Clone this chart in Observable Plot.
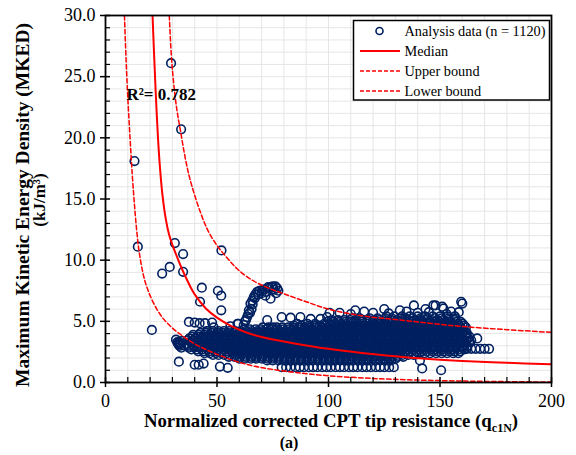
<!DOCTYPE html>
<html><head><meta charset="utf-8">
<script src="https://cdn.jsdelivr.net/npm/d3@7"></script>
<script src="https://cdn.jsdelivr.net/npm/@observablehq/plot@0.6"></script>
<style>
body{margin:0;background:#fff}
#chart{width:576px;height:455px}
</style>
</head><body><div id="chart"></div>
<script>
// ---- fitted curves ----
const medianQc = [21.1, 21.7, 22.5, 23.5, 24.5, 25.5, 27, 28.5, 30, 32, 34, 36, 38, 40, 45, 50, 56, 63, 70, 80, 90, 100, 115, 130, 145, 160, 180, 200];
const medianV  = [30, 27.2, 23.8, 20.1, 17.4, 15.4, 13.4, 12.1, 11.25, 10.3, 9.4, 8.6, 7.85, 7.2, 6.05, 5.3, 4.65, 4.1, 3.72, 3.35, 3.03, 2.75, 2.42, 2.15, 1.92, 1.76, 1.61, 1.5];
const upperQc  = [28.6, 29.5, 30.5, 32, 33.6, 35.5, 37.5, 40, 43, 46, 50, 54, 59, 65, 72, 80, 90, 100, 115, 130, 145, 160, 180, 200];
const upperV   = [30, 26.8, 24.6, 22.3, 20.6, 18.6, 16.9, 15.3, 13.7, 12.4, 11.2, 10.3, 9.3, 8.45, 7.8, 7.25, 6.6, 6.0, 5.45, 5.15, 4.85, 4.58, 4.32, 4.1];
const lowerQc  = [8.5, 9.2, 10, 11, 12, 13, 14, 15, 16.5, 18, 20, 23, 26, 30, 35, 40, 45, 50, 55, 60, 67, 75, 85, 100, 120, 140, 160, 180, 200];
const lowerV   = [30, 26.5, 23.3, 20.0, 17.0, 14.5, 12.4, 10.8, 9.2, 8.1, 7.1, 6.0, 5.2, 4.45, 3.75, 3.15, 2.7, 2.3, 1.95, 1.65, 1.32, 1.07, 0.82, 0.55, 0.33, 0.2, 0.12, 0.07, 0.04];

// ---- analysis data: isolated points ----
const isoQc = [13, 14.5, 20.8, 25.4, 28.8, 29.4, 31.1, 33.9, 34.8, 34.8, 32.9, 40, 41.8, 43.2, 42.4, 44, 50.4, 51.9, 51.9, 52, 51.3, 54.8,
  37.4, 40, 42.2, 44.6, 47.8, 59.2, 31.6, 32.2, 32.8, 33.2, 33.6, 34.5, 35.5, 34, 32.5, 33,
  62, 62.5, 63, 63.5, 64, 64.3, 64.8, 65, 65.5, 65.8, 66, 66.5, 67, 67.2, 68, 68.5, 69, 70, 70.3, 71, 71.7, 72, 72.5, 73, 73.5, 74, 74.7, 75, 75.5, 76.2, 76.5, 77, 77.5,
  72.5, 79, 83, 87.4, 92, 96.4, 99.4, 59.5, 56, 48.5,
  100.5, 105, 110, 112, 116, 120, 125, 127, 132, 135, 138.3, 140, 143.5, 145, 147, 148, 151, 151.6, 153, 155, 158.4, 159.5, 160,
  162, 164, 166, 168, 170, 172, 166.7, 163, 161.5,
  141, 142, 150.5];
const isoV = [18.1, 11.1, 4.3, 8.9, 9.45, 26.1, 11.4, 20.7, 10.5, 9.05, 1.7, 1.45, 1.45, 7.75, 6.6, 1.55, 7.5, 7.1, 5.9, 10.8, 1.3, 1.2,
  4.95, 4.9, 4.85, 4.85, 4.9, 4.8, 3.5, 3.3, 3.1, 3.0, 3.2, 3.4, 3.0, 2.85, 3.2, 3.3,
  4.7, 5.0, 5.1, 5.35, 5.6, 5.9, 5.7, 6.45, 6.0, 6.7, 6.4, 7.0, 6.9, 7.2, 7.4, 7.2, 7.5, 7.3, 7.55, 7.6, 7.1, 7.4, 7.7, 7.8, 7.75, 6.85, 7.8, 7.85, 7.6, 7.85, 7.3, 7.7, 7.5,
  5.1, 5.35, 5.3, 5.35, 5.2, 5.2, 5.35, 4.8, 4.6, 4.5,
  5.7, 5.7, 5.6, 5.9, 5.8, 5.7, 6.0, 5.65, 5.9, 5.8, 6.3, 5.7, 6.0, 5.75, 6.3, 6.3, 6.2, 6.05, 5.6, 5.8, 5.75, 6.6, 6.45,
  2.75, 2.75, 2.75, 2.75, 2.75, 2.75, 3.6, 3.3, 3.9,
  1.8, 1.15, 1.0];

// bottom row of separate circles
const lowRowQc = [79, 81, 83, 85.2, 87.1, 89, 91.2, 93.1, 95, 97.2, 99.1, 101, 103.2, 105.1, 107, 109.2, 111.1, 113, 115.2, 117.1, 119, 121.2, 123.1, 125, 127.2, 129.3];
const lowRowV = 1.25;

// dense cloud, read row by row (MKED level, then qc centres along it)
const cloudV = [1.8, 1.95, 2.1, 2.25, 2.4, 2.55, 2.7, 2.85, 3.0, 3.15, 3.3, 3.45, 3.6, 3.75, 3.9, 4.05, 4.2, 4.35, 4.5, 4.65, 4.8, 4.95, 5.1, 5.25, 5.4];
const cloudQc = [
  [72.5, 75, 77.6, 80.2, 82.7, 85.1, 87.8, 90.3, 92.6, 95.2, 97.9, 100.4, 102.8, 105.5, 108, 110.4, 113.1, 115.6, 118, 120.7, 123.2, 125.6, 128.1],
  [60, 62.6, 65.2, 67.6, 70.1, 72.7, 75.1, 77.6, 80.2, 82.6, 85.1, 87.7, 90.1, 92.6, 95.2, 97.6, 100.1, 102.7, 105.1, 107.6, 110.2, 112.6, 115.1, 117.7, 120.1, 122.6, 125.2, 127.6, 130.1],
  [55.3, 57.9, 60.2, 62.8, 65.4, 67.7, 70.3, 72.8, 75.3, 77.9, 80.4, 82.8, 85.5, 88, 90.4, 93, 95.6, 98, 100.5, 103.1, 105.6, 108, 110.7, 113.2, 115.6, 118.3, 120.8, 123.2, 125.9, 128.4, 130.8, 133.5],
  [48.2, 50.7, 53.3, 55.7, 58.2, 60.8, 63.2, 65.7, 68.3, 70.7, 73.2, 75.8, 78.2, 80.7, 83.3, 85.7, 88.2, 90.8, 93.2, 95.7, 98.3, 100.7, 103.2, 105.8, 108.2, 110.7, 113.3, 115.7, 118.2, 120.8, 123.2, 125.7, 128.3, 130.7, 133.2, 135.8, 138.2],
  [44.4, 46.8, 49.5, 52, 54.4, 57.1, 59.6, 62, 64.7, 67.2, 69.6, 72.3, 74.8, 77.2, 79.9, 82.4, 84.8, 87.5, 90, 92.4, 95.1, 97.6, 100, 102.7, 105.2, 107.6, 110.3, 112.8, 115.2, 117.9, 120.4, 122.8, 125.5, 128, 130.4, 133.1, 135.6, 138, 140.7, 143.2, 145.6, 148.3, 150.8, 153.2, 155.9, 158.2],
  [41.6, 44, 46.5, 49.1, 51.5, 54, 56.6, 59, 61.5, 64.1, 66.5, 69, 71.6, 74, 76.5, 79.1, 81.5, 84, 86.6, 89, 91.5, 94.1, 96.5, 99, 101.6, 104, 106.5, 109.1, 111.5, 114, 116.6, 119, 121.5, 124.1, 126.5, 129, 131.6, 134, 136.5, 139.1, 141.5, 144, 146.6, 149, 151.5, 154.1, 156.5, 159],
  [38.5, 41, 43.3, 45.9, 48.4, 50.8, 53.4, 55.9, 58.3, 60.9, 63.4, 65.8, 68.4, 70.9, 73.3, 75.9, 78.4, 80.8, 83.4, 85.9, 88.3, 90.9, 93.4, 95.8, 98.4, 100.9, 103.3, 105.9, 108.4, 110.8, 113.4, 115.9, 118.3, 120.9, 123.4, 125.8, 128.4, 130.9, 133.3, 135.9, 138.4, 140.8, 143.4, 145.9, 148.3, 150.9, 153.4, 155.8, 158.4, 160.9],
  [37.3, 39.8, 42.2, 44.7, 47.3, 49.7, 52.2, 54.8, 57.2, 59.7, 62.3, 64.7, 67.2, 69.8, 72.2, 74.7, 77.3, 79.7, 82.2, 84.8, 87.2, 89.7, 92.3, 94.7, 97.2, 99.8, 102.2, 104.7, 107.3, 109.7, 112.2, 114.8, 117.2, 119.7, 122.3, 124.7, 127.2, 129.8, 132.2, 134.7, 137.3, 139.7, 142.2, 144.8, 147.2, 149.7, 152.3, 154.7, 157.2, 159.8, 162],
  [37.2, 39.7, 42.1, 44.6, 47.2, 49.6, 52.1, 54.7, 57.1, 59.6, 62.2, 64.6, 67.1, 69.7, 72.1, 74.6, 77.2, 79.6, 82.1, 84.7, 87.1, 89.6, 92.2, 94.6, 97.1, 99.7, 102.1, 104.6, 107.2, 109.6, 112.1, 114.7, 117.1, 119.6, 122.2, 124.6, 127.1, 129.7, 132.1, 134.6, 137.2, 139.6, 142.1, 144.7, 147.1, 149.6, 152.2, 154.6, 157.1, 159.7, 162.3],
  [36.5, 38.9, 41.4, 44, 46.4, 48.9, 51.5, 53.9, 56.4, 59, 61.4, 63.9, 66.5, 68.9, 71.4, 74, 76.4, 78.9, 81.5, 83.9, 86.4, 89, 91.4, 93.9, 96.5, 98.9, 101.4, 104, 106.4, 108.9, 111.5, 113.9, 116.4, 119, 121.4, 123.9, 126.5, 128.9, 131.4, 134, 136.4, 138.9, 141.5, 143.9, 146.4, 149, 151.4, 153.9, 156.5, 158.9, 161.4],
  [38.4, 40.9, 43.4, 45.8, 48.4, 50.9, 53.3, 55.8, 58.4, 60.9, 63.3, 65.8, 68.4, 70.9, 73.3, 75.8, 78.4, 80.9, 83.3, 85.8, 88.4, 90.9, 93.3, 95.8, 98.4, 100.9, 103.3, 105.8, 108.4, 110.9, 113.3, 115.8, 118.4, 120.9, 123.3, 125.8, 128.4, 130.9, 133.3, 135.8, 138.4, 140.9, 143.3, 145.8, 148.4, 150.9, 153.3, 155.8, 158.4, 160.9, 163.4],
  [36.8, 39.3, 41.7, 44.2, 46.8, 49.2, 51.7, 54.3, 56.7, 59.2, 61.8, 64.2, 66.7, 69.3, 71.7, 74.2, 76.8, 79.2, 81.7, 84.3, 86.7, 89.2, 91.8, 94.2, 96.7, 99.3, 101.7, 104.2, 106.8, 109.2, 111.7, 114.3, 116.7, 119.2, 121.8, 124.2, 126.7, 129.3, 131.7, 134.2, 136.8, 139.2, 141.7, 144.3, 146.7, 149.2, 151.8, 154.2, 156.7, 159.3, 161.7, 164],
  [37.6, 40.1, 42.6, 45.1, 47.5, 50.1, 52.6, 55, 57.6, 60.1, 62.5, 65.1, 67.6, 70, 72.6, 75.1, 77.5, 80.1, 82.6, 85, 87.6, 90.1, 92.5, 95.1, 97.6, 100, 102.6, 105.1, 107.5, 110.1, 112.6, 115, 117.6, 120.1, 122.5, 125.1, 127.6, 130, 132.6, 135.1, 137.5, 140.1, 142.6, 145, 147.6, 150.1, 152.5, 155.1, 157.6, 160, 162.6],
  [38.9, 41.3, 43.8, 46.4, 48.8, 51.3, 53.9, 56.3, 58.8, 61.4, 63.8, 66.3, 68.9, 71.3, 73.8, 76.4, 78.8, 81.3, 83.9, 86.3, 88.8, 91.4, 93.8, 96.3, 98.9, 101.3, 103.8, 106.4, 108.8, 111.3, 113.9, 116.3, 118.8, 121.4, 123.8, 126.3, 128.9, 131.3, 133.8, 136.4, 138.8, 141.3, 143.9, 146.3, 148.8, 151.4, 153.8, 156.3, 158.9, 161.3, 163.2],
  [39.3, 41.8, 44.3, 46.7, 49.3, 51.8, 54.2, 56.8, 59.3, 61.7, 64.3, 66.8, 69.2, 71.8, 74.3, 76.7, 79.3, 81.8, 84.2, 86.8, 89.3, 91.7, 94.3, 96.8, 99.2, 101.8, 104.3, 106.7, 109.3, 111.8, 114.2, 116.8, 119.3, 121.7, 124.3, 126.8, 129.2, 131.8, 134.3, 136.7, 139.3, 141.8, 144.2, 146.8, 149.3, 151.7, 154.3, 156.8, 159.2, 161.8],
  [42.6, 45, 47.5, 50.1, 52.5, 55, 57.6, 60, 62.5, 65.1, 67.5, 70, 72.6, 75, 77.5, 80.1, 82.5, 85, 87.6, 90, 92.5, 95.1, 97.5, 100, 102.6, 105, 107.5, 110.1, 112.5, 115, 117.6, 120, 122.5, 125.1, 127.5, 130, 132.6, 135, 137.5, 140.1, 142.5, 145, 147.6, 150, 152.5, 155.1, 157.5, 160, 162],
  [45.5, 48, 50.6, 53.1, 55.5, 58.1, 60.6, 63, 65.6, 68.1, 70.5, 73.1, 75.6, 78, 80.6, 83.1, 85.5, 88.1, 90.6, 93, 95.6, 98.1, 100.5, 103.1, 105.6, 108, 110.6, 113.1, 115.5, 118.1, 120.6, 123, 125.6, 128.1, 130.5, 133.1, 135.6, 138, 140.6, 143.1, 145.5, 148.1, 150.6, 153, 155.6, 158.1, 160.5],
  [62.2, 64.7, 67.3, 69.7, 72.2, 74.8, 77.2, 79.7, 82.3, 84.7, 87.2, 89.8, 92.2, 94.7, 97.3, 99.7, 102.2, 104.8, 107.2, 109.7, 112.3, 114.7, 117.2, 119.8, 122.2, 124.7, 127.3, 129.7, 132.2, 134.8, 137.2, 139.7, 142.3, 144.7, 147.2, 149.8, 152.2, 154.7, 157.3, 159.7],
  [70.5, 73, 75, 76.8, 79.3, 81.9, 84.3, 86.8, 89.4, 91.8, 94.3, 96.9, 99.3, 101.8, 104.4, 106.8, 109.3, 111.9, 114.3, 116.8, 119.4, 121.8, 124.3, 126.9, 129.3, 131.8, 134.4, 136.8, 139.3, 141.9, 144.3, 146.8, 149.4, 151.8, 154.3, 156.9, 159.3, 161.6],
  [84.5, 88, 91.1, 93.6, 96.1, 98.7, 101.1, 103.6, 106.2, 108.6, 111.1, 113.7, 116.1, 118.6, 121.2, 123.6, 126.1, 128.7, 131.1, 133.6, 136.2, 138.6, 141.1, 143.7, 146.1, 148.6, 151.2, 153.6, 156.1, 158.7, 160.8],
  [86, 90.5, 94, 98.1, 100.6, 103, 105.6, 108.1, 110.5, 113.1, 115.6, 118, 120.6, 123.1, 125.5, 128.1, 130.6, 133, 135.6, 138.1, 140.5, 143.1, 145.6, 148, 150.6, 153.1, 155.5, 158.1, 160.2],
  [99.5, 102.3, 104.8, 107.4, 109.9, 112.4, 115, 117.4, 119.9, 122.5, 124.9, 127.4, 130, 132.4, 134.9, 137.5, 139.9, 142.4, 145, 147.4, 149.9, 152.5, 154.9, 157.4, 159.3],
  [101.5, 104.3, 107, 109.8, 112.2, 115, 117.6, 120.3, 122.8, 125.4, 128.1, 130.7, 133.2, 135.9, 138.5, 141, 143.7, 146.3, 148.8, 151.4, 154, 156.6],
  [110.5, 114, 118.5, 122, 125.5, 128.4, 131.9, 134.6, 137.8, 141.2, 144.5, 147.6, 150.7, 153.8, 156.8],
  [126, 129.5, 133, 136.4, 140, 143.2, 146.8, 150, 153.5, 156.7]
];

// axes
const xLabelTicks = [0, 50, 100, 150, 200];
const xMinorTicks = [10, 20, 30, 40, 60, 70, 80, 90, 110, 120, 130, 140, 160, 170, 180, 190];
const xGridTicks = [10, 20, 30, 40, 50, 60, 70, 80, 90, 100, 110, 120, 130, 140, 150, 160, 170, 180, 190];
const yLabelTicks = [0, 5, 10, 15, 20, 25, 30];
const yMinorTicks = [1, 2, 3, 4, 6, 7, 8, 9, 11, 12, 13, 14, 16, 17, 18, 19, 21, 22, 23, 24, 26, 27, 28, 29];
const yGridTicks = [1, 2, 3, 4, 5, 6, 7, 8, 9, 10, 11, 12, 13, 14, 15, 16, 17, 18, 19, 20, 21, 22, 23, 24, 25, 26, 27, 28, 29];

const legendLabels = ["Analysis data (n = 1120)", "Median", "Upper bound", "Lower bound"];

// ---- build tables ----
const points = [];
cloudQc.forEach((row, i) => row.forEach(q => points.push({qc: q, v: cloudV[i]})));
lowRowQc.forEach(q => points.push({qc: q, v: lowRowV}));
isoQc.forEach((q, i) => points.push({qc: q, v: isoV[i]}));
const zip = (a, b) => a.map((q, i) => ({qc: q, v: b[i]}));

const NAVY = "#002060";
const SERIF = "'Liberation Serif','Times New Roman',serif";

const chart = Plot.plot({
  width: 576, height: 455,
  marginLeft: 105, marginRight: 25, marginTop: 15, marginBottom: 73,
  style: {fontFamily: SERIF, fontSize: "18px", background: "white", color: "black", overflow: "visible"},
  x: {domain: [0, 200]},
  y: {domain: [0, 30]},
  marks: [
    Plot.gridX(xGridTicks, {stroke: "#e6e6e6", strokeOpacity: 1}),
    Plot.gridY(yGridTicks, {stroke: "#e6e6e6", strokeOpacity: 1}),
    Plot.dot(points, {x: "qc", y: "v", r: 4.3, stroke: NAVY, strokeWidth: 1.6, fill: "none"}),
    Plot.line(zip(lowerQc, lowerV), {x: "qc", y: "v", stroke: "#ff0000", strokeWidth: 1.5, strokeDasharray: "4.5,2.5", curve: "catmull-rom", clip: true}),
    Plot.line(zip(upperQc, upperV), {x: "qc", y: "v", stroke: "#ff0000", strokeWidth: 1.5, strokeDasharray: "4.5,2.5", curve: "catmull-rom", clip: true}),
    Plot.line(zip(medianQc, medianV), {x: "qc", y: "v", stroke: "#ff0000", strokeWidth: 2, curve: "catmull-rom", clip: true}),
    Plot.frame({stroke: "black", strokeWidth: 1.8}),
    Plot.axisX(xLabelTicks, {tickSize: 0, tickPadding: 12, label: null}),
    Plot.axisY(yLabelTicks, {tickSize: 0, tickPadding: 10, label: null, tickFormat: d => d.toFixed(1)}),
    Plot.ruleX(xLabelTicks, {y1: 0, y2: 0, insetTop: -5, insetBottom: -5, stroke: "black", strokeWidth: 1.5}),
    Plot.ruleX(xMinorTicks, {y1: 0, y2: 0, insetTop: -5, insetBottom: 0, stroke: "black", strokeWidth: 1.2}),
    Plot.ruleY(yLabelTicks, {x1: 0, x2: 0, insetLeft: -5, insetRight: -5, stroke: "black", strokeWidth: 1.5}),
    Plot.ruleY(yMinorTicks, {x1: 0, x2: 0, insetLeft: 0, insetRight: -5, stroke: "black", strokeWidth: 1.2})
  ]
});
document.getElementById("chart").appendChild(chart);

// ---- titles, annotation, legend ----
const svg = d3.select(chart);
const g = svg.append("g").attr("font-family", SERIF).attr("fill", "black").attr("text-anchor", "start");

// x title with subscript
const xt = g.append("text").attr("x", 331).attr("y", 427).attr("text-anchor", "middle")
  .attr("font-weight", "bold").attr("font-size", 18.8);
xt.append("tspan").text("Normalized corrected CPT tip resistance (q");
xt.append("tspan").attr("font-size", 12).attr("dy", 5).text("c1N");
xt.append("tspan").attr("dy", -5).text(")");

g.append("text").attr("x", 289).attr("y", 448).attr("text-anchor", "middle")
  .attr("font-weight", "bold").attr("font-size", 16).text("(a)");

// y title, two lines
g.append("text").attr("transform", "translate(29,205) rotate(-90)")
  .attr("text-anchor", "middle").attr("font-weight", "bold").attr("font-size", 19.5)
  .text("Maximum Kinetic Energy Density (MKED)");
g.append("text").attr("transform", "translate(45,200) rotate(-90)")
  .attr("text-anchor", "middle").attr("font-weight", "bold").attr("font-size", 17)
  .text("(kJ/m³)");

// R²
g.append("text").attr("x", 126.5).attr("y", 99.5).attr("text-anchor", "start")
  .attr("font-weight", "bold").attr("font-size", 17).text("R²= 0.782");

// legend
const lg = g.append("g");
lg.append("rect").attr("x", 353.5).attr("y", 20.5).attr("width", 196).attr("height", 79.5)
  .attr("fill", "white").attr("stroke", "black").attr("stroke-width", 1.5);
lg.append("circle").attr("cx", 379.5).attr("cy", 31).attr("r", 3.5)
  .attr("fill", "none").attr("stroke", NAVY).attr("stroke-width", 1.6);
[51, 71, 91].forEach((yy, i) => {
  lg.append("line").attr("x1", 360).attr("x2", 400).attr("y1", yy).attr("y2", yy)
    .attr("stroke", "#ff0000").attr("stroke-width", i === 0 ? 2 : 1.5)
    .attr("stroke-dasharray", i === 0 ? null : "4,2");
});
legendLabels.forEach((t, i) => {
  lg.append("text").attr("x", 404.5).attr("y", 36 + 20 * i).attr("text-anchor", "start")
    .attr("font-size", 14.3).text(t);
});
</script></body></html>
